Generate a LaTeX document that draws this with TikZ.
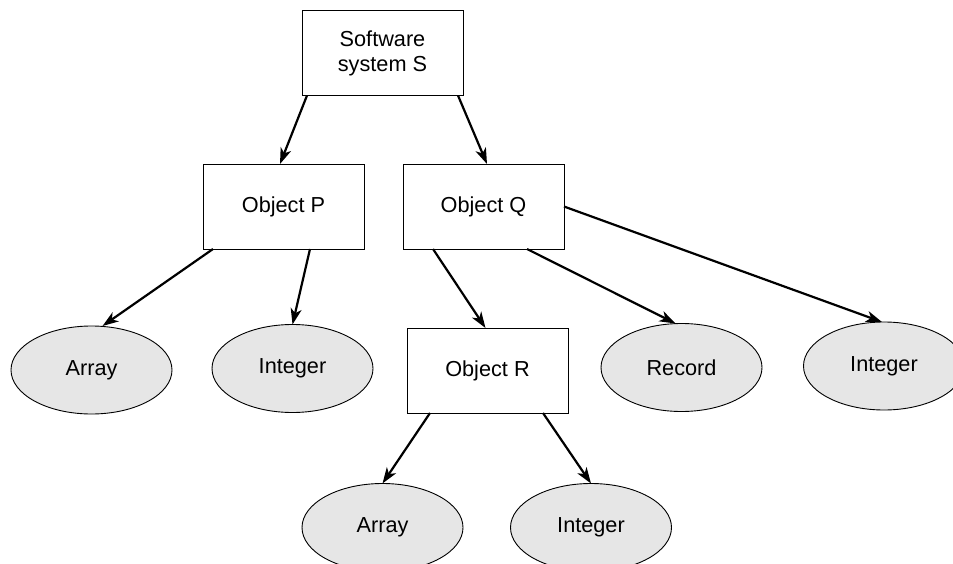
\documentclass[tikz,border=0pt]{standalone}
\usepackage{fontspec}
\setmainfont{Liberation Sans}
\usetikzlibrary{shapes.geometric,arrows.meta}
\definecolor{ellfill}{HTML}{E6E6E6}
\begin{document}
\begin{tikzpicture}[x=1pt,y=-1pt,
  every node/.style={font=\fontsize{21.7}{25}\selectfont, inner sep=0pt, outer sep=0pt},
  objbox/.style={draw=black, line width=0.9pt, fill=white, minimum width=161pt, minimum height=85pt, align=center},
  typeell/.style={ellipse, draw=black, line width=0.9pt, fill=ellfill, minimum width=161pt, minimum height=88pt},
  conn/.style={line width=2.2pt, -{Stealth[length=16pt,width=11pt,inset=4.5pt]}}]
\useasboundingbox (0,0) rectangle (953,564);
\clip (0,0) rectangle (953,564);
\node[objbox] (S) at (382.5,53) {Software\\system S};
\node[objbox] (P) at (283.5,206.5) {Object P};
\node[objbox] (Q) at (483.5,206.5) {Object Q};
\node[objbox] (R) at (487.5,370.5) {Object R};
\node[typeell] (A1) at (91.5,370) {Array};
\node[typeell] (I1) at (292.5,368.5) {Integer};
\node[typeell] (Rec) at (681.5,367.5) {Record};
\node[typeell] (I2) at (884,366) {Integer};
\node[typeell] (A2) at (382.5,527.5) {Array};
\node[typeell] (I3) at (591,527.5) {Integer};
\draw[conn] ([xshift=5pt]S.south west) -- ([xshift=77pt]P.north west);
\draw[conn] ([xshift=-5pt]S.south east) -- ([xshift=84pt]Q.north west);
\draw[conn] ([xshift=10pt]P.south west) -- ([xshift=11pt]A1.north);
\draw[conn] ([xshift=107pt]P.south west) -- (I1.north);
\draw[conn] ([xshift=30pt]Q.south west) -- ([xshift=-2pt]R.north);
\draw[conn] ([xshift=124pt]Q.south west) -- ([xshift=-6pt]Rec.north);
\draw[conn] (Q.east) -- ([xshift=-2pt]I2.north);
\draw[conn] ([xshift=23pt]R.south west) -- (A2.north);
\draw[conn] ([xshift=136pt]R.south west) -- (I3.north);
\end{tikzpicture}
\end{document}
